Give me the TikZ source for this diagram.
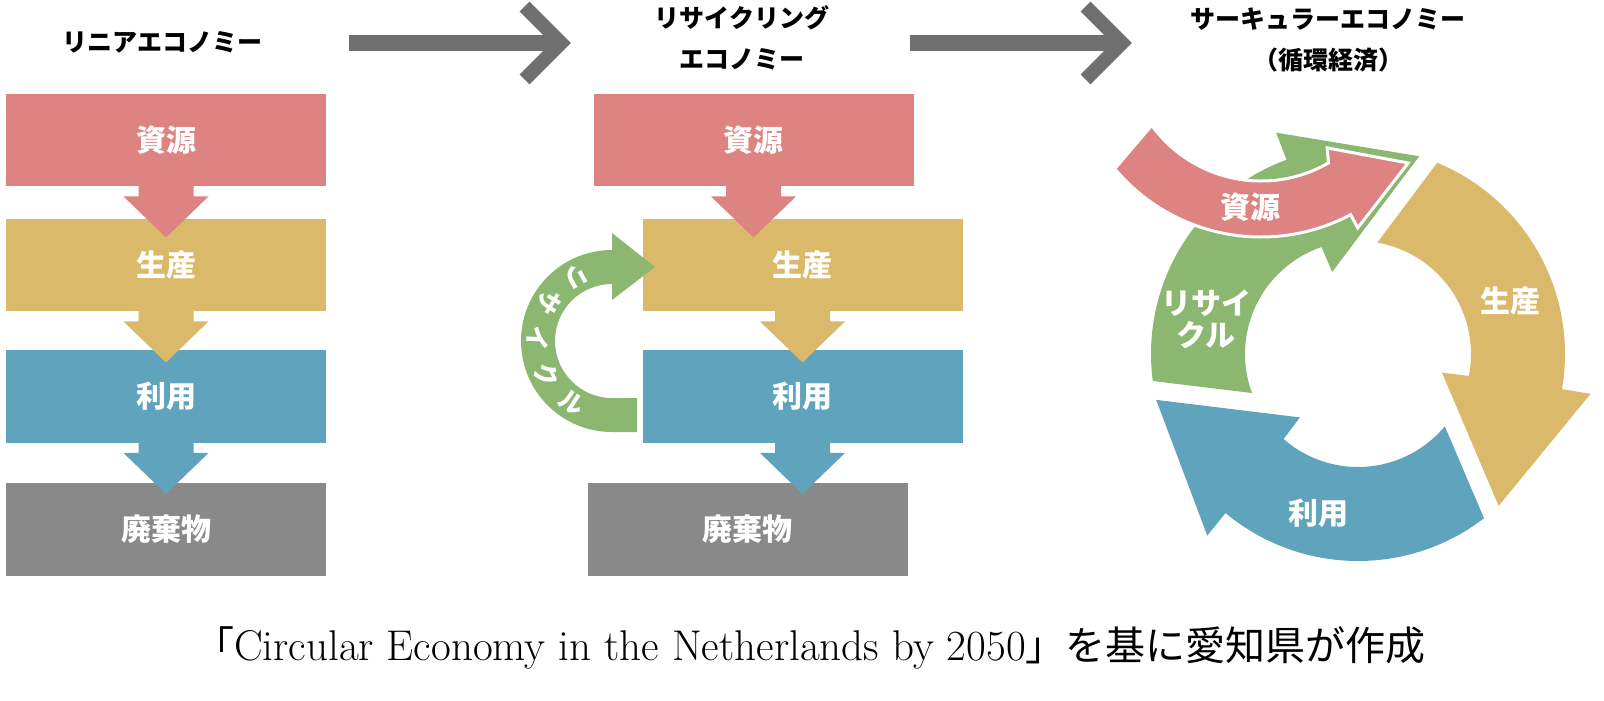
\documentclass[tikz,border=0pt]{standalone}
\usepackage{fontspec}
\newfontfamily\jp{Noto Sans CJK JP}
\usetikzlibrary{calc}
\definecolor{cpink}{RGB}{221,131,130}
\definecolor{cyel}{RGB}{219,185,106}
\definecolor{cblue}{RGB}{95,163,188}
\definecolor{cgray}{RGB}{137,137,137}
\definecolor{cgreen}{RGB}{140,183,112}
\definecolor{chdr}{RGB}{111,111,111}
\newcommand\dnarrow[2]{\fill[#1] (#2.south) ++(-27.5,-1) -- ++(0,11) -- ++(-15,0) -- ++(42.5,41) -- ++(42.5,-41) -- ++(-15,0) -- ++(0,-11) -- cycle;}
\begin{document}
\begin{tikzpicture}[x=1pt,y=-1pt,
  lbl/.style={text=white, font=\jp\bfseries\fontsize{30}{34}\selectfont, inner sep=0},
  box/.style={lbl, minimum width=320, minimum height=92.5},
  title/.style={font=\jp\bfseries\fontsize{25}{41}\selectfont, align=center, inner sep=0},
  ring/.style={text=white, font=\jp\bfseries\fontsize{25}{27}\selectfont, inner sep=0},
  hdr/.style={draw=chdr, line width=16},
  chev/.style={draw=chdr, line width=14, miter limit=10},
]
\useasboundingbox[fill=white] (0,0) rectangle (1604,701);

% titles
\node[title] (t1) at (162,42) {リニアエコノミー};
\node[title] (t2) at (742,38) {リサイクリング\\エコノミー};
\node[title] (t3) at (1328,40) {サーキュラーエコノミー\\（循環経済）};

% header arrows
\coordinate (h1a) at (349,43); \coordinate (h1b) at (561,43);
\coordinate (h1u) at (524.6,6.6); \coordinate (h1d) at (524.6,79.4);
\draw[hdr] (h1a) -- (h1b);
\draw[chev] (h1u) -- (h1b) -- (h1d);
\coordinate (h2a) at (910,43); \coordinate (h2b) at (1122,43);
\coordinate (h2u) at (1085.6,6.6); \coordinate (h2d) at (1085.6,79.4);
\draw[hdr] (h2a) -- (h2b);
\draw[chev] (h2u) -- (h2b) -- (h2d);

% left column
\node[box, fill=cpink] (L1) at (166,140) {資源};
\node[box, fill=cyel] (L2) at (166,265) {生産};
\node[box, fill=cblue] (L3) at (166,396.5) {利用};
\node[box, fill=cgray] (L4) at (166,529.5) {廃棄物};
\dnarrow{cpink}{L1}
\dnarrow{cyel}{L2}
\dnarrow{cblue}{L3}

% middle column
\node[box, fill=cpink] (M1) at (753.5,140) {資源};
\node[box, fill=cyel] (M2) at (802.5,265) {生産};
\node[box, fill=cblue] (M3) at (802.5,396.5) {利用};
\node[box, fill=cgray] (M4) at (747.5,529.5) {廃棄物};
\dnarrow{cpink}{M1}
\dnarrow{cyel}{M2}
\dnarrow{cblue}{M3}

% recycle C arrow
\coordinate (rc) at (612,341);
\fill[cgreen] (637,398) -- (612,398) arc[start angle=90, end angle=270, radius=57]
  -- (612,300) -- (655,267) -- (612,233) -- (612,250)
  arc[start angle=270, end angle=90, radius=91] -- (637,432) -- cycle;
\foreach \ch [count=\i] in {リ,サ,イ,ク,ル} {
  \pgfmathsetmacro\ang{241-29.5*(\i-1)}
  \node[ring, rotate={90-\ang}] (rch\i) at ($(rc)+(\ang:74)$) {\ch};
}

% circular economy
\begin{scope}[shift={(1358,354)}]
\foreach \a/\c in {-67.5/cyel, 52.5/cblue, 172.5/cgreen} {
  \fill[\c] (\a:207) arc[start angle=\a, end angle={\a+77.3}, radius=207]
    -- ({\a+77.2}:236) -- ({\a+114.7}:207) -- ({\a+80}:86) -- ({\a+78.7}:113)
    arc[start angle={\a+78.7}, end angle={\a-12.7}, radius=113] -- cycle;
}
\end{scope}
\begin{scope}[shift={(1261,46)}]
\filldraw[fill=cpink, draw=white, line width=3, line join=miter]
  (144:135) -- (140:191) arc[start angle=140, end angle=62, radius=191]
  -- (62:206) -- (38.5:188) -- (57:121.5) -- (60:135)
  arc[start angle=60, end angle=144, radius=135] -- cycle;
\end{scope}
\node[lbl] (c1) at (1250,207) {資源};
\node[lbl] (c2) at (1510,301) {生産};
\node[lbl] (c3) at (1318,513) {利用};
\node[lbl, align=center, font=\jp\bfseries\fontsize{30}{32}\selectfont] (c4) at (1206,319) {リサイ\\クル};

% caption
\node[anchor=base east, inner sep=0] (cap) at (1426,660) {{\jp\fontsize{40}{48}\selectfont 「}\fontsize{43}{50}\selectfont Circular Economy in the Netherlands by 2050{\jp\fontsize{40}{48}\selectfont 」を基に愛知県が作成}};
\end{tikzpicture}
\end{document}
